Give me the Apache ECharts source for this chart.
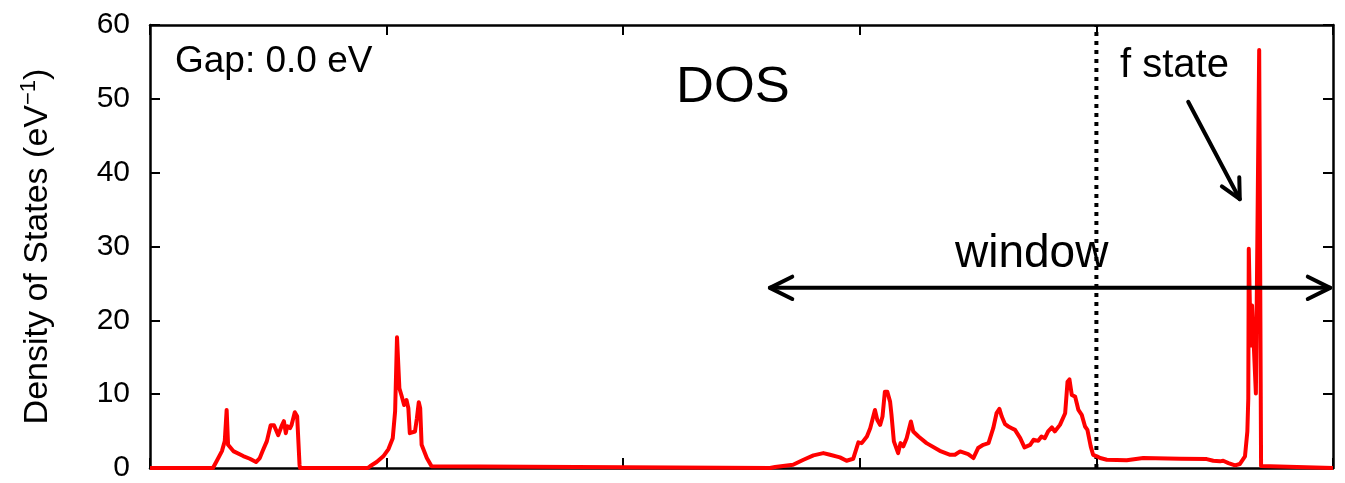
<!DOCTYPE html>
<html>
<head>
<meta charset="utf-8">
<script src="https://cdn.jsdelivr.net/npm/echarts@6/dist/echarts.min.js"></script>
<style>
html,body{margin:0;padding:0;background:#fff;}
#chart{width:1345px;height:483px;}
</style>
</head>
<body>
<div id="chart"></div>
<script>
// Energy (eV, relative to Fermi level) and DOS (states/eV)
const energy = [
  -20, -18.67, -18.59, -18.48, -18.42, -18.38, -18.35, -18.24, -18.03, -17.89, -17.76, -17.68, -17.62, -17.53,
  -17.45, -17.38, -17.29, -17.22, -17.17, -17.13, -17.10, -17.04, -17.01, -16.94, -16.89, -16.84, -16.83,
  -15.40, -15.35, -15.21, -15.07, -14.96, -14.87, -14.82, -14.78, -14.73, -14.68, -14.63, -14.58, -14.54,
  -14.51, -14.40, -14.36, -14.32, -14.29, -14.26, -14.15, -14.05, -14.01,
  -6.90, -6.79, -6.41, -6.19, -5.98, -5.77, -5.63, -5.42, -5.28, -5.14, -5.03, -4.96, -4.85, -4.78, -4.68,
  -4.63, -4.57, -4.52, -4.47, -4.42, -4.36, -4.33, -4.28, -4.19, -4.14, -4.08, -4.01, -3.92, -3.87, -3.76,
  -3.59, -3.31, -3.09, -2.99, -2.88, -2.71, -2.60, -2.50, -2.39, -2.28, -2.18, -2.11, -2.05, -2.00, -1.93,
  -1.86, -1.79, -1.72, -1.61, -1.52, -1.40, -1.33, -1.23, -1.16, -1.09, -1.02, -0.94, -0.88, -0.77, -0.66,
  -0.61, -0.57, -0.52, -0.45, -0.38, -0.31, -0.24, -0.19, -0.12, -0.07, 0.01, 0.04, 0.08, 0.22, 0.64, 0.99,
  1.77, 2.33, 2.47, 2.61, 2.68, 2.79, 2.93, 3.03, 3.14, 3.19, 3.21, 3.22, 3.26, 3.29, 3.33, 3.37, 3.41,
  3.44, 3.46, 3.48, 3.50, 5
];
const dos = [
  0, 0, 0.94, 2.29, 3.64, 7.86, 3.14, 2.29, 1.62, 1.25, 0.81, 1.35, 2.29, 3.64,
  5.8, 5.8, 4.45, 5.66, 6.34, 4.72, 5.66, 5.39, 5.8, 7.55, 7.01, 0.45, 0,
  0, 0.23, 0.81, 1.58, 2.56, 4.04, 7.68, 17.7, 10.8, 9.71, 8.54, 9.21, 8.09,
  4.72, 4.94, 6.74, 8.9, 8.09, 3.14, 1.35, 0.23, 0,
  0, 0.13, 0.44, 1.12, 1.71, 2.02, 1.79, 1.44, 0.98, 1.25, 3.47, 3.37, 4.27, 5.39, 7.86,
  6.51, 5.84, 6.97, 10.34, 10.34, 8.99, 7.19, 3.6, 2.02, 3.37, 2.93, 4.04, 6.3, 4.95, 4.27,
  3.37, 2.33, 1.79, 1.79, 2.25, 1.89, 1.35, 2.7, 3.14, 3.37, 5.39, 7.42, 8.0, 6.97, 5.93,
  5.62, 5.39, 5.16, 4.04, 2.79, 3.14, 3.82, 3.68, 4.27, 4.04, 4.95, 5.49, 4.95, 5.84, 7.42,
  11.69, 12.0, 9.88, 9.67, 7.86, 7.19, 5.62, 5.16, 2.93, 1.79, 1.58, 1.35, 1.35, 1.12, 1.04, 1.35,
  1.25, 1.21, 0.98, 0.9, 0.98, 0.67, 0.36, 0.54, 1.58, 4.95, 9.44, 29.7, 16.6, 22.0, 22.0, 10.1, 10.1,
  56.6, 56.6, 0.27, 0, 0
];
const yTicks = [0, 10, 20, 30, 40, 50, 60];
const fermiLevel = 0;
// annotation anchors in data coordinates
const windowArrow = [[-6.9, 24.4], [4.94, 24.4]];
const fStateArrow = [[1.94, 49.6], [3.03, 36.4]];

const chart = echarts.init(document.getElementById('chart'), null, {renderer: 'canvas'});
const FONT = 'Liberation Sans, Arial, Helvetica, sans-serif';
const axisLineStyle = {color: '#000', width: 2.5};
const tickCommon = {show: true, inside: true, length: 10, lineStyle: {color: '#000', width: 2}};

const option = {
  animation: false,
  backgroundColor: '#fff',
  grid: {left: 150, right: 12, top: 25, bottom: 13, containLabel: false},
  xAxis: [
    {type: 'value', min: -20, max: 5, interval: 5, position: 'bottom',
     axisLine: {show: true, onZero: false, lineStyle: axisLineStyle},
     axisTick: tickCommon, axisLabel: {show: false}, splitLine: {show: false}},
    {type: 'value', min: -20, max: 5, interval: 5, position: 'top',
     axisLine: {show: true, onZero: false, lineStyle: axisLineStyle},
     axisTick: tickCommon, axisLabel: {show: false}, splitLine: {show: false}}
  ],
  yAxis: [
    {type: 'value', min: 0, max: 60, interval: 10, position: 'left',
     name: 'Density of States (eV{sup|−1})', nameLocation: 'middle', nameGap: 93,
     nameTextStyle: {fontFamily: FONT, fontSize: 34, color: '#000',
       rich: {sup: {fontFamily: FONT, fontSize: 22, color: '#000', verticalAlign: 'top', padding: [0, 0, 17, 0]}}},
     axisLine: {show: true, onZero: false, lineStyle: axisLineStyle},
     axisTick: tickCommon,
     axisLabel: {show: true, fontFamily: FONT, fontSize: 30, color: '#000', margin: 20,
       formatter: v => yTicks.includes(v) ? String(v) : ''},
     splitLine: {show: false}},
    {type: 'value', min: 0, max: 60, interval: 10, position: 'right',
     axisLine: {show: true, onZero: false, lineStyle: axisLineStyle},
     axisTick: tickCommon, axisLabel: {show: false}, splitLine: {show: false}}
  ],
  series: [
    {
      type: 'line', name: 'Fermi level',
      xAxisIndex: 0, yAxisIndex: 0,
      data: [[fermiLevel, 0], [fermiLevel, 60]],
      showSymbol: false, symbol: 'none',
      lineStyle: {color: '#000', width: 4, type: [4, 5], cap: 'butt'},
      z: 2, silent: true
    },
    {
      type: 'line', name: 'DOS',
      xAxisIndex: 0, yAxisIndex: 0,
      data: energy.map((e, i) => [e, dos[i]]),
      showSymbol: false, symbol: 'none', smooth: false, clip: false,
      lineStyle: {color: '#ff0000', width: 4, join: 'round'},
      itemStyle: {color: '#ff0000'},
      z: 5
    }
  ]
};
chart.setOption(option);

function px(p) { return chart.convertToPixel({xAxisIndex: 0, yAxisIndex: 0}, p); }
function chevron(tip, from, len, ang) {
  const dx = from[0] - tip[0], dy = from[1] - tip[1];
  const L = Math.hypot(dx, dy), ux = dx / L, uy = dy / L;
  const c = Math.cos(ang), s = Math.sin(ang);
  const a1 = [tip[0] + len * (ux * c - uy * s), tip[1] + len * (ux * s + uy * c)];
  const a2 = [tip[0] + len * (ux * c + uy * s), tip[1] + len * (-ux * s + uy * c)];
  return [a1, tip, a2];
}
const wA = px(windowArrow[0]), wB = px(windowArrow[1]);
const fA = px(fStateArrow[0]), fB = px(fStateArrow[1]);
const arrowStyle = {stroke: '#000', lineWidth: 4, lineCap: 'round', lineJoin: 'round', fill: null};
const ang = Math.atan2(11, 22);

chart.setOption({
  graphic: [
    {type: 'polyline', shape: {points: [wA, wB]}, style: arrowStyle, z: 10},
    {type: 'polyline', shape: {points: chevron(wA, wB, 25, ang)}, style: arrowStyle, z: 10},
    {type: 'polyline', shape: {points: chevron(wB, wA, 25, ang)}, style: arrowStyle, z: 10},
    {type: 'polyline', shape: {points: [fA, fB]}, style: arrowStyle, z: 10},
    {type: 'polyline', shape: {points: chevron(fB, fA, 22, ang)}, style: arrowStyle, z: 10},
    {type: 'text', x: 175, y: 62, style: {text: 'Gap: 0.0 eV', fontFamily: FONT, fontSize: 37, fill: '#000', textAlign: 'left', textVerticalAlign: 'middle'}, z: 10},
    {type: 'text', x: 733, y: 88, scaleX: 1.05, style: {text: 'DOS', fontFamily: FONT, fontSize: 50, fill: '#000', textAlign: 'center', textVerticalAlign: 'middle'}, z: 10},
    {type: 'text', x: 1120, y: 66, style: {text: 'f state', fontFamily: FONT, fontSize: 40, fill: '#000', textAlign: 'left', textVerticalAlign: 'middle'}, z: 10},
    {type: 'text', x: 955, y: 254, style: {text: 'window', fontFamily: FONT, fontSize: 46, fill: '#000', textAlign: 'left', textVerticalAlign: 'middle'}, z: 10}
  ]
});
</script>
</body>
</html>
